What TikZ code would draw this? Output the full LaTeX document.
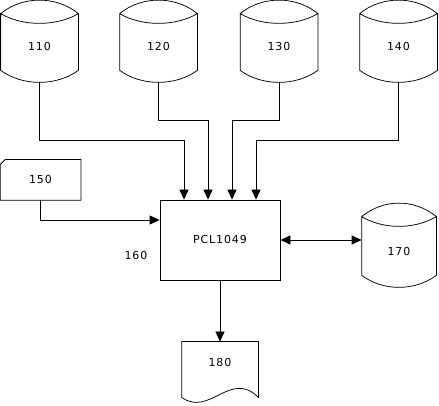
\documentclass[tikz,border=0pt]{standalone}
\usepackage{fontspec}
\setmainfont{DejaVu Sans}
\newfontfamily\lblfont[LetterSpace=8]{DejaVu Sans}
\usetikzlibrary{arrows.meta}
\newcommand{\shiftlbl}[2]{\raisebox{#1}[0pt][0pt]{#2}}
\begin{document}
\begin{tikzpicture}[x=1pt, y=1pt, line width=0.75pt,
    every node/.style={font=\lblfont\fontsize{11}{13}\selectfont},
    store/.style={minimum width=77pt, minimum height=82pt, inner sep=0pt},
    card/.style={minimum width=80pt, minimum height=40pt, inner sep=0pt},
    proc/.style={draw, minimum width=120pt, minimum height=80pt, inner sep=0pt},
    doc/.style={minimum width=76pt, minimum height=55pt, inner sep=0pt},
    flow/.style={-{Triangle[length=10pt, width=9pt]}}]
    \useasboundingbox (0,0) rectangle (439,406);

    % Data stores
    \node[store] (d110) at (39.5,365) {\shiftlbl{-10pt}{110}};
    \node[store] (d120) at (158.5,365) {\shiftlbl{-10pt}{120}};
    \node[store] (d130) at (279,365) {\shiftlbl{-10pt}{130}};
    \node[store] (d140) at (398.5,365) {\shiftlbl{-10pt}{140}};
    \node[store, minimum width=74pt, minimum height=84pt] (d170) at (399,161) {\shiftlbl{-11pt}{170}};

    % Cylinder outlines
    \foreach \n in {d110,d120,d130,d140,d170}{
        \draw ([yshift=-14pt]\n.north west) .. controls +(22,18) and +(-22,18) .. ([yshift=-14pt]\n.north east)
            .. controls +(-22,-13) and +(22,-13) .. ([yshift=-14pt]\n.north west)
            -- ([yshift=12pt]\n.south west) .. controls +(22,-16) and +(-22,-16) .. ([yshift=12pt]\n.south east)
            -- ([yshift=-14pt]\n.north east);
    }

    % Input card and process
    \node[card] (c150) at (40.5,226) {150};
    \draw (c150.south west) -- ([yshift=-5pt]c150.north west) -- ([xshift=5pt]c150.north west)
        -- (c150.north east) -- (c150.south east) -- cycle;
    \node[proc] (pcl) at (220,166) {PCL1049};
    \node (l160) at (136,150) {160};

    % Output document
    \node[doc] (d180) at (220,36.5) {\shiftlbl{2.5pt}{180}};
    \draw (d180.south west) -- (d180.north west) -- (d180.north east) -- (d180.south east)
        .. controls +(-28,28) and +(28,-20) .. (d180.south west);

    % Connectors
    \draw[flow] (d110.south) -- ++(0,-58) -| ([xshift=-36pt]pcl.north);
    \draw[flow] (d120.south) -- ++(0,-38) -| ([xshift=-12pt]pcl.north);
    \draw[flow] (d130.south) -- ++(0,-38) -| ([xshift=12pt]pcl.north);
    \draw[flow] (d140.south) -- ++(0,-58) -| ([xshift=36pt]pcl.north);
    \draw[flow] (c150.south) |- ([yshift=20pt]pcl.west);
    \draw[{Triangle[length=10pt, width=9pt]}-{Triangle[length=10pt, width=9pt]}] (pcl.east) -- (pcl.east -| d170.west);
    \draw[flow] (pcl.south) -- (d180.north);
\end{tikzpicture}
\end{document}
